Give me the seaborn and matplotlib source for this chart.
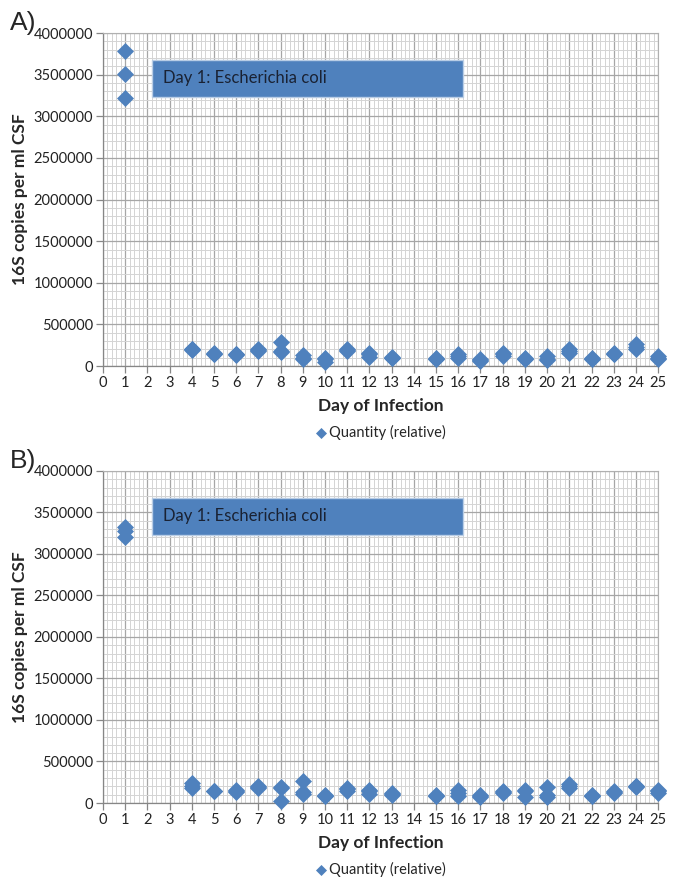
import numpy as np
import pandas as pd
import seaborn as sns
import matplotlib.pyplot as plt
from matplotlib.patches import Rectangle
from matplotlib.ticker import MultipleLocator, FuncFormatter

#### 16S copies per ml CSF over the course of infection, two qPCR runs (A, B)

sample_days = [1, 4, 5, 6, 7, 8, 9, 10, 11, 12, 13, 15, 16, 17, 18, 19, 20, 21, 22, 23, 24, 25]

# triplicates per sample day
copies_a = [
    [3780000, 3510000, 3220000], [210000, 200000, 190000], [160000, 150000, 140000],
    [150000, 140000, 135000], [200000, 190000, 180000], [290000, 180000, 170000],
    [130000, 100000, 90000], [100000, 80000, 55000], [200000, 190000, 180000],
    [160000, 150000, 110000], [110000, 100000, 95000], [95000, 90000, 85000],
    [150000, 120000, 100000], [80000, 70000, 65000], [160000, 140000, 120000],
    [100000, 90000, 80000], [120000, 90000, 70000], [210000, 180000, 160000],
    [95000, 90000, 85000], [160000, 150000, 140000], [260000, 230000, 210000],
    [120000, 100000, 90000],
]
copies_b = [
    [3330000, 3280000, 3210000], [240000, 210000, 180000], [150000, 145000, 140000],
    [160000, 145000, 135000], [200000, 190000, 185000], [190000, 185000, 30000],
    [270000, 130000, 110000], [100000, 90000, 80000], [180000, 165000, 150000],
    [160000, 145000, 110000], [115000, 110000, 100000], [95000, 90000, 85000],
    [160000, 120000, 90000], [95000, 85000, 75000], [140000, 130000, 125000],
    [155000, 150000, 75000], [190000, 100000, 75000], [230000, 210000, 180000],
    [100000, 90000, 85000], [140000, 130000, 125000], [210000, 200000, 195000],
    [160000, 140000, 120000],
]

panel_labels = ['A)', 'B)']
note_text = 'Day 1: Escherichia coli'
series_name = 'Quantity (relative)'
y_ticks = [0, 500000, 1000000, 1500000, 2000000, 2500000, 3000000, 3500000, 4000000]
x_ticks = list(range(0, 26))

blue = '#4f81bd'

sns.set_style('white')
plt.rcParams['font.family'] = ['Lato', 'DejaVu Sans']

fig = plt.figure(figsize=(6.75, 8.8), dpi=100)

axes_pos = [[0.1526, 0.584, 0.8224, 0.3785],
            [0.1526, 0.0875, 0.8224, 0.3773]]

for pos, copies, lab in zip(axes_pos, [copies_a, copies_b], panel_labels):
    ax = fig.add_axes(pos)
    df = pd.DataFrame({'day': np.repeat(sample_days, 3),
                       'copies': np.concatenate(copies)})

    sns.scatterplot(data=df, x='day', y='copies', marker='D', s=75, color=blue,
                    edgecolor=blue, linewidth=0, label=series_name, ax=ax,
                    clip_on=False, zorder=5)

    ax.set_xlim(0, 25)
    ax.set_ylim(0, 4000000)
    ax.set_xticks(x_ticks)
    ax.set_yticks(y_ticks)
    ax.yaxis.set_major_formatter(FuncFormatter(lambda v, p: '%d' % v))
    ax.xaxis.set_minor_locator(MultipleLocator(0.2))
    ax.yaxis.set_minor_locator(MultipleLocator(100000))

    # excel style graph paper
    ax.grid(which='major', color='#a6a6a6', linewidth=0.9)
    ax.grid(which='minor', color='#d4d4d4', linewidth=0.7)
    ax.set_axisbelow(True)

    for s in ['top', 'right']:
        ax.spines[s].set_color('#b0b0b0')
        ax.spines[s].set_linewidth(0.8)
    for s in ['left', 'bottom']:
        ax.spines[s].set_color('#868686')
        ax.spines[s].set_linewidth(0.9)

    ax.tick_params(which='major', direction='out', length=5, width=0.9,
                   color='#868686', labelsize=10.5, labelcolor='#222222', pad=2,
                   left=True, bottom=True)
    ax.tick_params(which='minor', length=0)

    ax.set_xlabel('Day of Infection', fontsize=12.5, fontweight='bold', labelpad=6)
    ax.set_ylabel('')

    # text box for day 1
    ax.add_patch(Rectangle((2.2, 3230000), 14.0, 450000, facecolor=blue,
                           edgecolor='#b9cde5', linewidth=1.0, zorder=4))
    ax.text(2.7, 3455000, note_text, fontsize=12, color='#1a2233',
            va='center', ha='left', zorder=6)

    ax.legend(loc='center', bbox_to_anchor=(0.5, -0.2), frameon=False,
              fontsize=10.5, handletextpad=0.2, handlelength=0.8,
              markerscale=0.65, borderaxespad=0)

    fig.text(0.03, pos[1] + pos[3] / 2, '16S copies per ml CSF', rotation=90,
             fontsize=12.5, fontweight='bold', ha='center', va='center')
    fig.text(0.015, pos[1] + pos[3] + 0.011, lab, fontsize=19,
             family='Liberation Sans', ha='left', va='center')

fig.savefig('out.png', dpi=100)
